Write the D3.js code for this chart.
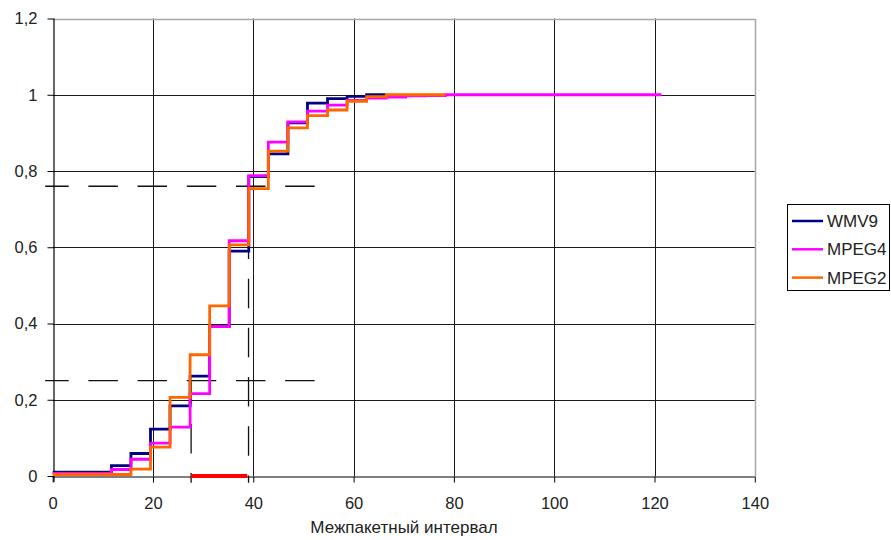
<!DOCTYPE html>
<html>
<head>
<meta charset="utf-8">
<script src="https://cdn.jsdelivr.net/npm/d3@7"></script>
<style>
    body { margin: 0; background: #fff; }
    #chart { width: 891px; height: 540px; }
    text { font-family: Arial, "Liberation Sans", sans-serif; fill: #222; }
</style>
</head>
<body>
<div id="chart"></div>
<script>

    // step positions on the x axis (start of each interval)
    var edges = [0, 11.7, 15.6, 19.5, 23.4, 27.4, 31.3, 35.2, 39.1, 43.0, 46.9, 50.8, 54.8, 58.7, 62.6, 66.5, 70.4, 74.4, 78.3, 121.4];

    // cumulative share per interval
    var wmv9 = [0.010, 0.027, 0.059, 0.123, 0.184, 0.262, 0.392, 0.590, 0.785, 0.845, 0.926, 0.978, 0.990, 0.996, 1.000];
    var mpeg4 = [0.007, 0.017, 0.044, 0.086, 0.128, 0.216, 0.392, 0.617, 0.788, 0.876, 0.929, 0.957, 0.973, 0.985, 0.991, 0.994, 0.997, 0.998, 1.000];
    var mpeg2 = [0.004, 0.004, 0.018, 0.076, 0.206, 0.318, 0.446, 0.606, 0.754, 0.852, 0.913, 0.945, 0.960, 0.983, 0.995, 1.000, 1.000, 1.000];

    var seriesNames = ["WMV9", "MPEG4", "MPEG2"];
    var seriesColors = ["#000080", "#ff00ff", "#ff6600"];

    var xTicks = [0, 20, 40, 60, 80, 100, 120, 140];
    var yTicks = [0, 0.2, 0.4, 0.6, 0.8, 1, 1.2];
    var yTickLabels = ["0", "0,2", "0,4", "0,6", "0,8", "1", "1,2"];

    // dashed guide lines: levels 0.25 / 0.76 and the matching intervals
    var guideLevels = [0.25, 0.76];
    var guideX = [27.6, 39.05];
    var guideXStart = -1.5;
    var guideXEnd = 52.8;
    var guideBottom = -0.018;
    var redSpan = [27.6, 38.8];

    var xLabel = "Межпакетный интервал";


    var width = document.querySelector("#chart").clientWidth;
    var height = document.querySelector("#chart").clientHeight;
    var svg = d3.select("#chart")
        .append("svg")
        .attr("width", width)
        .attr("height", height);

    var xScale = d3.scaleLinear()
        .domain([0, 140])
        .range([52.7, 754.8]);

    var yScale = d3.scaleLinear()
        .domain([0, 1.2])
        .range([476, 18.5]);


    // gridlines
    svg.selectAll("line.vgrid")
        .data(xTicks.slice(1, -1))
        .enter()
        .append("line")
            .attr("class", "vgrid")
            .attr("x1", function(d) { return Math.round(xScale(d)) + 0.5; })
            .attr("x2", function(d) { return Math.round(xScale(d)) + 0.5; })
            .attr("y1", yScale(1.2))
            .attr("y2", yScale(0))
            .attr("stroke", "#1a1a1a")
            .attr("stroke-width", 1);

    svg.selectAll("line.hgrid")
        .data(yTicks.slice(1, -1))
        .enter()
        .append("line")
            .attr("class", "hgrid")
            .attr("x1", xScale(0))
            .attr("x2", xScale(140))
            .attr("y1", function(d) { return Math.round(yScale(d)) + 0.5; })
            .attr("y2", function(d) { return Math.round(yScale(d)) + 0.5; })
            .attr("stroke", "#1a1a1a")
            .attr("stroke-width", 1);

    // plot area border (top / right)
    svg.append("path")
        .attr("d", "M" + xScale(0) + "," + (Math.round(yScale(1.2)) + 0.5) +
                   "H" + (Math.round(xScale(140)) + 0.5) +
                   "V" + yScale(0))
        .attr("fill", "none")
        .attr("stroke", "#a8a8a8")
        .attr("stroke-width", 1.5);


    // axes
    var xAxis = d3.axisBottom(xScale)
        .tickValues(xTicks)
        .tickSize(6)
        .tickPadding(15)
        .tickFormat(function(d) { return d; });

    var yAxis = d3.axisLeft(yScale)
        .tickValues(yTicks)
        .tickSize(6)
        .tickPadding(10)
        .tickFormat(function(d, i) { return yTickLabels[i]; });

    var gx = svg.append("g")
        .attr("transform", "translate(0," + (Math.round(yScale(0)) + 0.5) + ")")
        .call(xAxis);

    var gy = svg.append("g")
        .attr("transform", "translate(" + (Math.round(xScale(0)) + 0.5) + ",0)")
        .call(yAxis);

    [gx, gy].forEach(function(g) {
        g.select(".domain").attr("stroke", "#000").attr("stroke-width", 1.2);
        g.selectAll(".tick line").attr("stroke", "#000");
        g.selectAll(".tick text")
            .attr("font-size", 16.5)
            .attr("font-family", "Arial, 'Liberation Sans', sans-serif")
            .attr("fill", "#222");
    });
    gx.select(".domain").attr("d", "M" + (xScale(0) - 0.5) + ",0.5H" + xScale(140));
    gy.select(".domain").attr("d", "M0.5," + yScale(1.2) + "V" + (yScale(0) + 6));


    // dashed guides
    var dash = "29.5,19.7";

    svg.selectAll("line.hguide")
        .data(guideLevels)
        .enter()
        .append("line")
            .attr("class", "hguide")
            .attr("x1", xScale(guideXStart))
            .attr("x2", xScale(guideXEnd))
            .attr("y1", function(d) { return yScale(d); })
            .attr("y2", function(d) { return yScale(d); })
            .attr("stroke", "#111")
            .attr("stroke-width", 1.3)
            .attr("stroke-dasharray", dash)
            .attr("stroke-dashoffset", 6);

    svg.selectAll("line.vguide")
        .data(guideX)
        .enter()
        .append("line")
            .attr("class", "vguide")
            .attr("x1", function(d) { return xScale(d); })
            .attr("x2", function(d) { return xScale(d); })
            .attr("y1", function(d, i) { return yScale(guideLevels[i]); })
            .attr("y2", yScale(guideBottom))
            .attr("stroke", "#111")
            .attr("stroke-width", 1.3)
            .attr("stroke-dasharray", dash)
            .attr("stroke-dashoffset", 6);


    // series as step lines
    var allSeries = [wmv9, mpeg4, mpeg2];

    var line = d3.line()
        .x(function(d) { return xScale(d[0]); })
        .y(function(d) { return yScale(d[1]); })
        .curve(d3.curveStepAfter);

    allSeries.forEach(function(values, s) {
        var pts = values.map(function(v, i) { return [edges[i], v]; });
        pts.push([edges[values.length], values[values.length - 1]]);

        svg.append("path")
            .datum(pts)
            .attr("fill", "none")
            .attr("stroke", seriesColors[s])
            .attr("stroke-width", 2.8)
            .attr("stroke-linejoin", "miter")
            .attr("d", line);
    });


    // red span on the axis
    svg.append("line")
        .attr("x1", xScale(redSpan[0]))
        .attr("x2", xScale(redSpan[1]))
        .attr("y1", yScale(0))
        .attr("y2", yScale(0))
        .attr("stroke", "#ff0000")
        .attr("stroke-width", 3.8);


    // axis title
    svg.append("text")
        .attr("x", 404)
        .attr("y", 533)
        .attr("text-anchor", "middle")
        .attr("font-size", 17)
        .text(xLabel);


    // legend
    var legend = svg.append("g")
        .attr("transform", "translate(787,204)");

    legend.append("rect")
        .attr("x", 0.5)
        .attr("y", 0.5)
        .attr("width", 102)
        .attr("height", 86)
        .attr("fill", "#fff")
        .attr("stroke", "#000")
        .attr("stroke-width", 1);

    var items = legend.selectAll("g.item")
        .data(seriesNames)
        .enter()
        .append("g")
            .attr("class", "item")
            .attr("transform", function(d, i) { return "translate(0," + (17 + i * 28.3) + ")"; });

    items.append("line")
        .attr("x1", 5)
        .attr("x2", 36)
        .attr("y1", 0)
        .attr("y2", 0)
        .attr("stroke", function(d, i) { return seriesColors[i]; })
        .attr("stroke-width", 2.5);

    items.append("text")
        .attr("x", 40)
        .attr("y", 6)
        .attr("font-size", 17)
        .text(function(d) { return d; });

</script>
</body>
</html>
